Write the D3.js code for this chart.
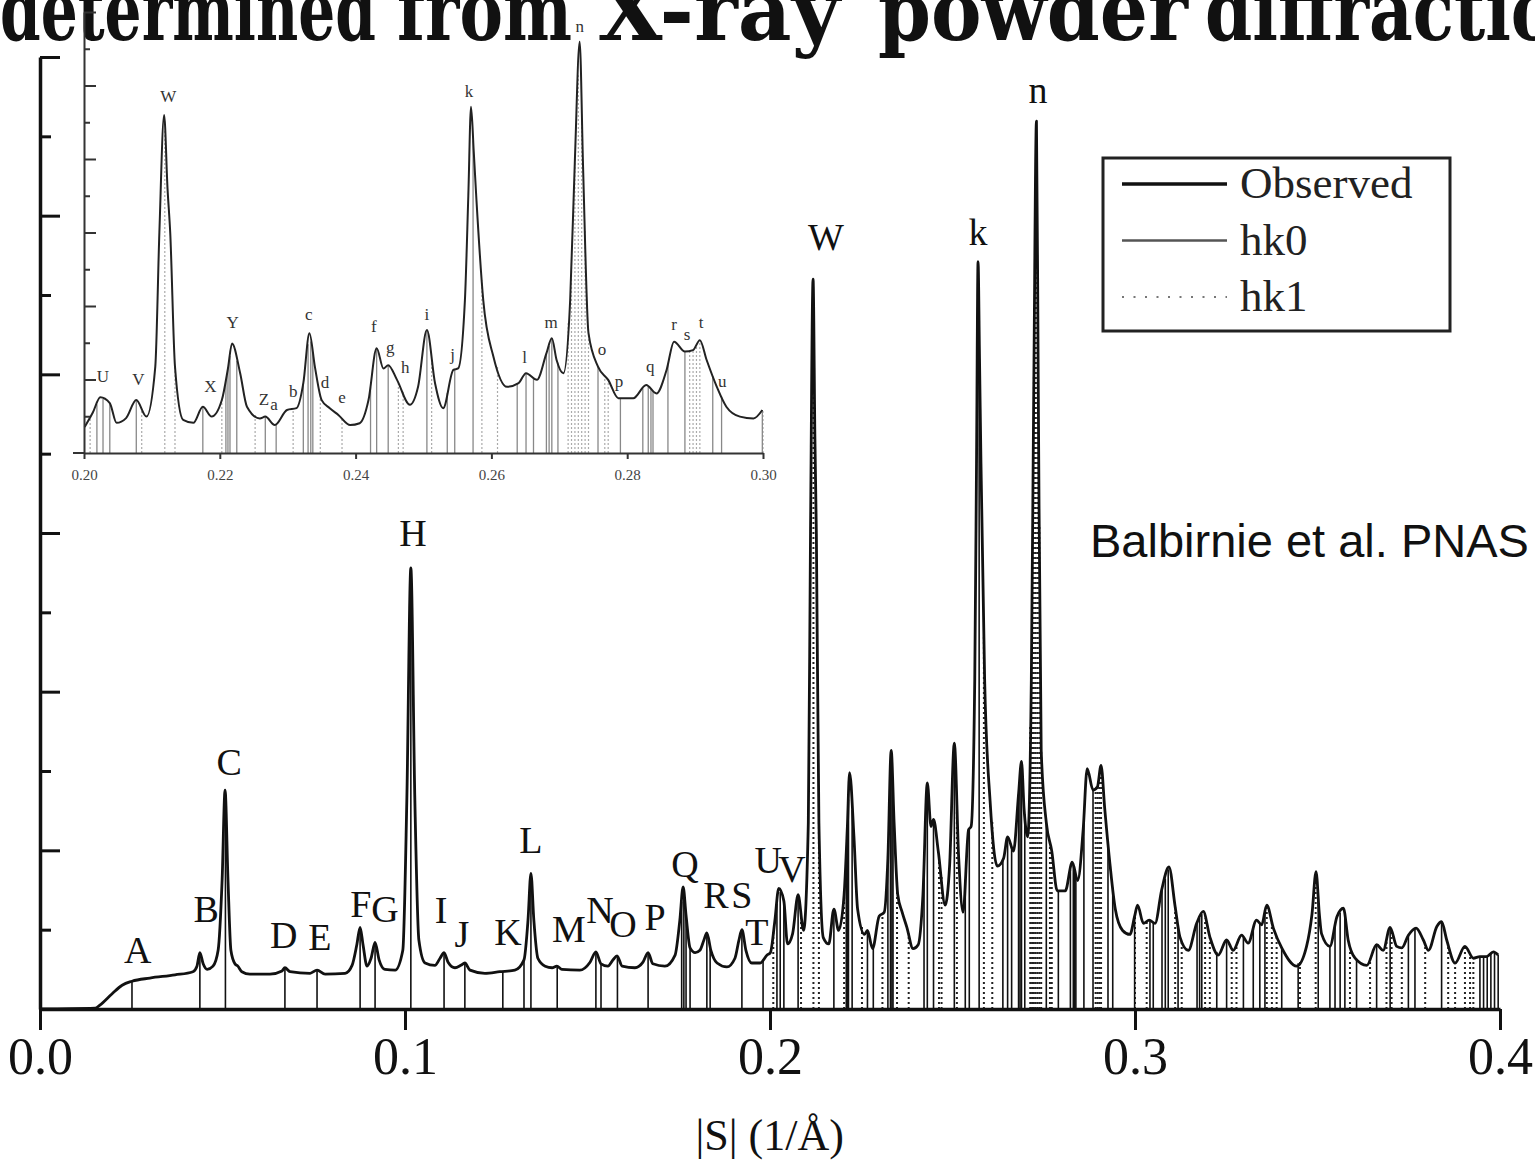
<!DOCTYPE html>
<html><head><meta charset="utf-8">
<script src="https://cdn.jsdelivr.net/npm/d3@7"></script>
<style>body{margin:0;background:#fff}svg{display:block}</style>
</head><body>
<svg id="c" width="1535" height="1163"></svg>
<script>
// ---------------- DATA ----------------
const titleWords = ["determined", "from", "X-ray", "powder", "diffraction"];

// observed profile: [|S| (1/Å), intensity (a.u.)]
const observed = [
[0,0],[0.0151,0.01],[0.0164,0.05],[0.0197,0.19],[0.0225,0.30],[0.0252,0.35],[0.0301,0.39],[0.037,0.43],[0.0419,0.47],[0.043,0.54],[0.0438,0.71],[0.0447,0.57],[0.0458,0.50],[0.0474,0.54],[0.0488,0.74],[0.0499,1.63],[0.0507,2.76],[0.0515,1.63],[0.0523,0.74],[0.0534,0.57],[0.0542,0.54],[0.0553,0.47],[0.0575,0.44],[0.063,0.44],[0.0663,0.48],[0.0671,0.52],[0.0685,0.47],[0.074,0.45],[0.0759,0.49],[0.0781,0.44],[0.0836,0.45],[0.0855,0.55],[0.0868,0.81],[0.0877,1.03],[0.0885,0.81],[0.0896,0.54],[0.0907,0.64],[0.0918,0.84],[0.0929,0.62],[0.0945,0.50],[0.0973,0.49],[0.0994,0.74],[0.1005,2.63],[0.1016,5.56],[0.1027,2.63],[0.1038,0.87],[0.1055,0.58],[0.1082,0.55],[0.1096,0.64],[0.1107,0.71],[0.1118,0.59],[0.1137,0.52],[0.1153,0.55],[0.1164,0.58],[0.1178,0.49],[0.1219,0.45],[0.126,0.47],[0.1301,0.49],[0.1326,0.62],[0.1337,1.12],[0.1345,1.71],[0.1353,1.12],[0.1364,0.64],[0.1384,0.54],[0.1403,0.52],[0.1416,0.54],[0.143,0.50],[0.1479,0.49],[0.1507,0.59],[0.1523,0.72],[0.1537,0.57],[0.1556,0.54],[0.157,0.62],[0.1581,0.67],[0.1595,0.54],[0.163,0.52],[0.1652,0.59],[0.1666,0.71],[0.1679,0.57],[0.1712,0.54],[0.174,0.68],[0.1753,1.12],[0.1762,1.54],[0.177,1.18],[0.1781,0.77],[0.1795,0.71],[0.1808,0.74],[0.1819,0.87],[0.1827,0.96],[0.1838,0.74],[0.1855,0.58],[0.1882,0.53],[0.1904,0.64],[0.1915,0.87],[0.1923,1.00],[0.1934,0.74],[0.195,0.58],[0.1973,0.58],[0.1992,0.68],
[0.2001,0.71],[0.2013,1.1],[0.2024,1.52],[0.2038,1.36],[0.2048,0.82],[0.2062,0.95],[0.2077,1.44],[0.2092,0.99],[0.2105,2.35],[0.2111,6.0],[0.2118,9.2],[0.2123,7.2],[0.2127,5.99],[0.2134,2.35],[0.2146,0.9],[0.2161,0.82],[0.2175,1.26],[0.2188,0.99],[0.2203,1.44],[0.2212,2.3],[0.2218,2.98],[0.223,2.17],[0.224,1.26],[0.2259,0.94],[0.2267,0.99],[0.2281,0.76],[0.2299,1.17],[0.2313,1.22],[0.2323,1.9],[0.2332,3.26],[0.234,2.35],[0.235,1.44],[0.2362,1.22],[0.2375,1.03],[0.2392,0.76],[0.2406,0.81],[0.2419,1.44],[0.2431,2.85],[0.2441,2.3],[0.2448,2.39],[0.2461,1.99],[0.248,1.31],[0.2492,1.8],[0.2505,3.35],[0.2517,1.9],[0.2529,1.22],[0.2544,2.26],[0.2551,2.3],[0.2561,4.16],[0.2566,7.0],[0.257,9.42],[0.2574,8.2],[0.2578,6.88],[0.2588,4.16],[0.2603,2.62],[0.2623,1.8],[0.264,1.9],[0.2651,2.17],[0.2667,1.99],[0.2681,2.71],[0.2689,3.12],[0.2696,2.53],[0.2706,2.17],[0.2716,4.16],[0.2723,8.0],[0.273,11.19],[0.2735,7.79],[0.2743,3.26],[0.2757,2.35],[0.2772,1.99],[0.2787,1.49],[0.2809,1.49],[0.2828,1.85],[0.2843,1.62],[0.2858,2.26],[0.2869,3.03],[0.2885,2.76],[0.2897,2.8],[0.2907,3.07],[0.2917,2.53],[0.2932,1.8],[0.2946,1.26],[0.2966,0.99],[0.2986,0.94],[0.2999,1.17],
[0.3007,1.31],[0.3023,1.08],[0.3039,1.12],[0.3055,1.08],[0.3073,1.5],[0.3093,1.79],[0.311,1.29],[0.3123,0.91],[0.3146,0.74],[0.3169,1.08],[0.3187,1.23],[0.3205,0.91],[0.3228,0.68],[0.3251,0.87],[0.3269,0.74],[0.3292,0.93],[0.331,0.83],[0.3333,1.12],[0.3347,1.06],[0.3361,1.31],[0.3379,1.02],[0.3402,0.77],[0.3443,0.54],[0.347,0.79],[0.3485,1.2],[0.3496,1.73],[0.3505,1.2],[0.3511,0.95],[0.3534,0.79],[0.3553,1.16],[0.3571,1.27],[0.3584,0.87],[0.3603,0.64],[0.3635,0.55],[0.3662,0.81],[0.368,0.74],[0.3699,1.03],[0.3717,0.79],[0.3731,0.77],[0.3749,0.93],[0.377,1.02],[0.379,0.87],[0.3804,0.74],[0.3827,1.04],[0.384,1.1],[0.3854,0.87],[0.3877,0.58],[0.3904,0.79],[0.3927,0.64],[0.3945,0.66],[0.3963,0.66],[0.3982,0.72],[0.3995,0.68]
];

// calculated reflection positions (|S|)
const hk0 = [0.0252,0.0438,0.0508,0.0671,0.0759,0.0877,0.0918,0.1016,0.1107,0.1164,0.1268,0.1326,0.1345,0.1417,0.1523,0.1537,0.1582,0.1666,0.1758,0.1764,0.177,0.1781,0.1827,0.1836,0.1923,0.1981,
0.2019,0.2028,0.2038,0.2077,0.2175,0.2209,0.2212,0.2215,0.2225,0.2267,0.2283,0.2323,0.2330,0.2334,0.2337,0.2422,0.2431,0.2448,0.2505,0.2535,0.2546,0.2573,0.2638,0.2651,0.2662,0.2681,0.2685,0.2689,0.2698,0.2757,0.2790,0.2823,0.2831,0.2835,0.2838,0.2860,0.2885,0.2926,0.2939,0.2999,
0.3041,0.305,0.3074,0.3083,0.3091,0.3118,0.317,0.3177,0.3183,0.3224,0.3251,0.3297,0.3324,0.3342,0.3356,0.3402,0.3447,0.3502,0.3534,0.3548,0.3562,0.3575,0.3607,0.3662,0.3699,0.3749,0.3767,0.384,0.3945,0.3955,0.3965,0.3975,0.3985,0.3995];
const hk1 = [0.2009,0.2085,0.2119,0.2134,0.2203,0.2252,0.2308,0.2348,0.2380,0.2463,0.2470,0.2512,0.2586,0.2609,0.2713,0.2718,0.2723,0.2728,0.2733,0.2738,0.2743,0.2767,0.2772,0.2892,0.2897,0.2902,0.2907,
0.3,0.3032,0.311,0.3128,0.3192,0.3205,0.3265,0.3278,0.3361,0.3375,0.3388,0.3452,0.3495,0.3589,0.3644,0.3689,0.3703,0.3731,0.3795,0.3858,0.3877,0.3904,0.3918,0.3927];

// peak labels: [text, |S|, intensity]
const mainLabels = [["A",0.0268,0.58],["B",0.0455,1.10],["C",0.0518,2.95],["D",0.0668,0.77],["E",0.0767,0.74],["F",0.0879,1.16],["G",0.0945,1.10],["H",0.1022,5.84],["I",0.1099,1.08],["J",0.1156,0.78],["K",0.1282,0.81],["L",0.1345,1.97],["M",0.1449,0.84],["N",0.1534,1.08],["O",0.1597,0.91],["P",0.1685,1.00],["Q",0.1767,1.66],["R",0.1852,1.27],["S",0.1923,1.27],["T",0.1964,0.81],["U",0.1995,1.71],["V",0.206,1.60],["W",0.2153,9.57],["k",0.257,9.63],["n",0.2734,11.42]];
const insetLabels = [["U",0.2028,1.93],["V",0.208,1.85],["W",0.2124,9.55],["X",0.2186,1.66],["Y",0.2219,3.40],["Z",0.2265,1.31],["a",0.228,1.17],["b",0.2308,1.52],["c",0.2331,3.62],["d",0.2355,1.77],["e",0.238,1.36],["f",0.2427,3.29],["g",0.2451,2.72],["h",0.2473,2.18],["i",0.2505,3.62],["j",0.2543,2.53],["k",0.2567,9.69],["l",0.2649,2.45],["m",0.2688,3.40],["n",0.2730,11.46],["o",0.2763,2.67],["p",0.2788,1.80],["q",0.2834,2.20],["r",0.2869,3.35],["s",0.2888,3.07],["t",0.2909,3.40],["u",0.294,1.80]];

const mainXTicks = [0, 0.1, 0.2, 0.3, 0.4];
const insetXTicks = [0.20, 0.22, 0.24, 0.26, 0.28, 0.30];
const yTicks = [0,1,2,3,4,5,6,7,8,9,10,11,12];
const legendItems = ["Observed", "hk0", "hk1"];
const xAxisTitle = "|S| (1/Å)";
const credit = "Balbirnie et al. PNAS";

// ---------------- DRAW ----------------
const svg = d3.select("#c");
const serif = "'Liberation Serif','Times New Roman',serif";

// title (cut off at top of the slide)
const titleLayout = [[0,376],[397,175],[598,242],[878,310],[1205,400]];
svg.append("g").selectAll("text").data(titleWords).join("text")
  .attr("x", (d,i)=>titleLayout[i][0]).attr("y", 40)
  .attr("textLength", (d,i)=>titleLayout[i][1]).attr("lengthAdjust","spacingAndGlyphs")
  .style("font-family","'DejaVu Serif',serif").style("font-weight","bold").style("font-size","84px")
  .attr("fill","#111").text(d=>d);

const x = d3.scaleLinear().domain([0, 0.4]).range([40, 1500]);
const y = d3.scaleLinear().domain([0, 12]).range([1009, 57]);
const xi = d3.scaleLinear().domain([0.2, 0.3]).range([84, 763]);
const yi = d3.scaleLinear().domain([0, 12]).range([453, 12]);

const obsS = observed.map(d=>d[0]), obsI = observed.map(d=>d[1]);
function intensityAt(s){
  const i = d3.bisectLeft(obsS, s);
  if (i <= 0) return obsI[0];
  if (i >= obsS.length) return obsI[obsI.length-1];
  const t = (s - obsS[i-1]) / (obsS[i] - obsS[i-1]);
  return obsI[i-1] + t * (obsI[i] - obsI[i-1]);
}

// ---- main plot ----
const main = svg.append("g");
main.append("g").selectAll("line").data(hk1).join("line")
  .attr("x1", d=>x(d)).attr("x2", d=>x(d)).attr("y1", y(0)).attr("y2", d=>y(intensityAt(d)))
  .attr("stroke","#222").attr("stroke-width",2).attr("stroke-dasharray","2,3");
main.append("g").selectAll("line").data(hk0).join("line")
  .attr("x1", d=>x(d)).attr("x2", d=>x(d)).attr("y1", y(0)).attr("y2", d=>y(intensityAt(d)))
  .attr("stroke","#111").attr("stroke-width",1.6);
const lineMain = d3.line().x(d=>x(d[0])).y(d=>y(d[1])).curve(d3.curveMonotoneX);
main.append("path").datum(observed).attr("d", lineMain)
  .attr("fill","none").attr("stroke","#111").attr("stroke-width",2.8).attr("stroke-linejoin","round");

// axes
const xAxis = d3.axisBottom(x).tickValues(mainXTicks).tickFormat(d3.format(".1f")).tickSize(21).tickSizeOuter(0).tickPadding(7);
const gx = main.append("g").attr("transform",`translate(0,${y(0)})`).call(xAxis);
gx.select(".domain").attr("stroke","#111").attr("stroke-width",3.5);
gx.selectAll(".tick line").attr("stroke","#111").attr("stroke-width",3);
gx.selectAll(".tick text").style("font-family",serif).style("font-size","52px").attr("fill","#111");

const yAxis = d3.axisRight(y).tickValues(yTicks).tickFormat("").tickSizeOuter(0);
const gy = main.append("g").attr("transform",`translate(${x(0)},0)`).call(yAxis);
gy.select(".domain").attr("stroke","#111").attr("stroke-width",3.5);
gy.selectAll(".tick line").attr("x2", d=> d%2===0 ? 20 : 11).attr("stroke","#111").attr("stroke-width",3)
  .filter(d=>d===0).remove();

main.append("text").attr("x", x(0.1999)).attr("y", 1150).attr("text-anchor","middle")
  .style("font-family",serif).style("font-size","44px").attr("fill","#111").text(xAxisTitle);

main.append("g").selectAll("text").data(mainLabels).join("text")
  .attr("x", d=>x(d[1])).attr("y", d=>y(d[2])).attr("text-anchor","middle")
  .style("font-family",serif).style("font-size","38px").attr("fill","#111").text(d=>d[0]);

// ---- legend ----
const lg = svg.append("g");
lg.append("rect").attr("x",1103).attr("y",158).attr("width",347).attr("height",173)
  .attr("fill","#fff").attr("stroke","#222").attr("stroke-width",3);
const lgStyles = [{c:"#111",w:3.5,d:null},{c:"#555",w:2.5,d:null},{c:"#777",w:2,d:"2,9.5"}];
legendItems.forEach((t,i)=>{
  const yy = 184 + i*56.5;
  lg.append("line").attr("x1",1122).attr("x2",1227).attr("y1",yy).attr("y2",yy)
    .attr("stroke",lgStyles[i].c).attr("stroke-width",lgStyles[i].w).attr("stroke-dasharray",lgStyles[i].d);
  lg.append("text").attr("x",1240).attr("y",yy+14).style("font-family",serif).style("font-size","45px")
    .attr("fill","#222").text(t);
});

svg.append("text").attr("x",1090).attr("y",557).style("font-family","'Liberation Sans',Arial,sans-serif")
  .style("font-size","47px").attr("fill","#111").text(credit);

// ---- inset ----
const inset = svg.append("g");
const inS = s => s >= 0.2 && s <= 0.3;
inset.append("g").selectAll("line").data(hk1.filter(inS)).join("line")
  .attr("x1", d=>xi(d)).attr("x2", d=>xi(d)).attr("y1", yi(0)).attr("y2", d=>yi(intensityAt(d)))
  .attr("stroke","#aaa").attr("stroke-width",1.2).attr("stroke-dasharray","2,2");
inset.append("g").selectAll("line").data(hk0.filter(inS)).join("line")
  .attr("x1", d=>xi(d)).attr("x2", d=>xi(d)).attr("y1", yi(0)).attr("y2", d=>yi(intensityAt(d)))
  .attr("stroke","#888").attr("stroke-width",1.3);
const lineInset = d3.line().x(d=>xi(d[0])).y(d=>yi(d[1])).curve(d3.curveMonotoneX);
inset.append("path").datum(observed.filter(d=>inS(d[0]))).attr("d", lineInset)
  .attr("fill","none").attr("stroke","#222").attr("stroke-width",2).attr("stroke-linejoin","round");

const xiAxis = d3.axisBottom(xi).tickValues(insetXTicks).tickFormat(d3.format(".2f")).tickSize(6).tickSizeOuter(0).tickPadding(10);
const gxi = inset.append("g").attr("transform",`translate(0,${yi(0)})`).call(xiAxis);
gxi.select(".domain").attr("stroke","#333").attr("stroke-width",2);
gxi.selectAll(".tick line").attr("stroke","#333").attr("stroke-width",2);
gxi.selectAll(".tick text").style("font-family",serif).style("font-size","15px").attr("fill","#444");
inset.append("line").attr("x1",xi(0.2)-11).attr("x2",xi(0.2)).attr("y1",yi(0)).attr("y2",yi(0))
  .attr("stroke","#333").attr("stroke-width",2);

const yiAxis = d3.axisRight(yi).tickValues(yTicks).tickFormat("").tickSizeOuter(0);
const gyi = inset.append("g").attr("transform",`translate(${xi(0.2)},0)`).call(yiAxis);
gyi.select(".domain").attr("stroke","#333").attr("stroke-width",2);
gyi.selectAll(".tick line").attr("x2", d=> d%2===0 ? 12 : 6).attr("stroke","#333").attr("stroke-width",2)
  .filter(d=>d===0).remove();

inset.append("g").selectAll("text").data(insetLabels).join("text")
  .attr("x", d=>xi(d[1])).attr("y", d=>yi(d[2])).attr("text-anchor","middle")
  .style("font-family",serif).style("font-size","17px").attr("fill","#333").text(d=>d[0]);
</script>
</body></html>
